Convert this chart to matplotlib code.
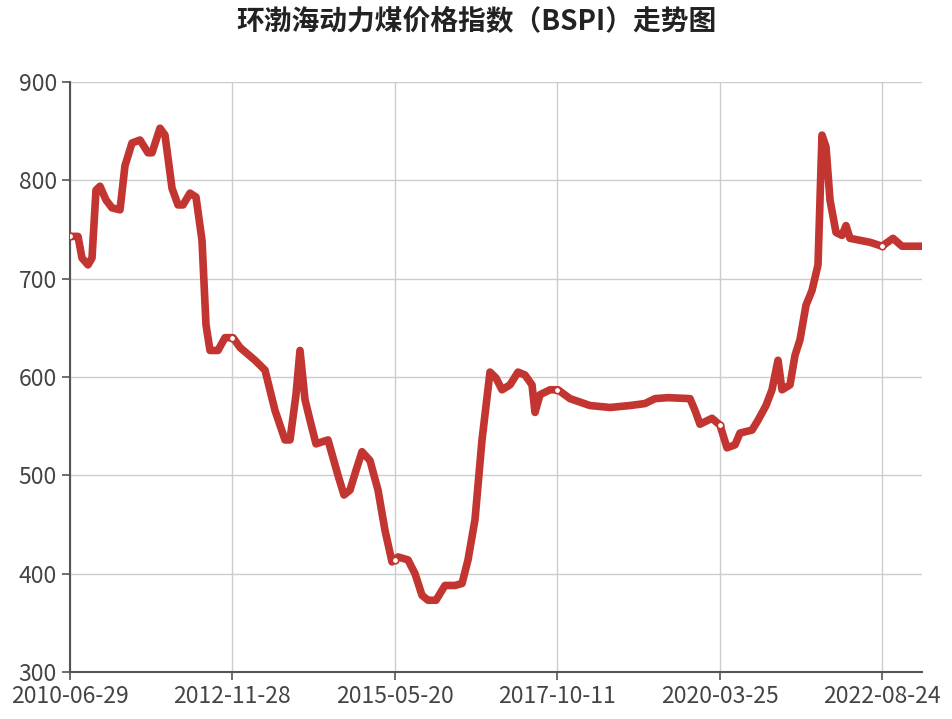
import matplotlib
matplotlib.use("Agg")
import matplotlib.pyplot as plt

plt.rcParams['font.family'] = ['Noto Sans CJK SC', 'DejaVu Sans']

tick_labels = ["2010-06-29", "2012-11-28", "2015-05-20", "2017-10-11", "2020-03-25", "2022-08-24"]
px = [70,78,82,88,92,96,100,106,112,120,125,132,140,148,152,160,165,172,178,183,190,196,202,206,210,218,225,233,
      240,255,265,275,285,290,296,300,305,310,316,328,338,344,350,356,362,370,378,385,392,398,408,415,422,428,436,
      445,455,462,468,475,482,490,496,502,510,518,525,532,535,540,550,558,570,590,610,630,645,655,668,690,695,700,
      712,720,727,735,740,752,758,766,772,778,782,790,795,800,806,812,818,822,826,830,836,842,846,850,870,882,893,902,922]
values = [743,743,721,714,721,790,794,780,772,770,815,838,841,828,828,853,846,792,775,775,787,783,739,653,627,627,640,640,
          630,617,607,566,536,536,582,627,577,556,532,536,500,480,485,505,524,515,485,444,412,417,414,400,378,373,373,
          388,388,390,414,455,536,605,599,587,592,605,602,592,564,582,587,587,578,571,569,571,573,578,579,578,566,552,
          558,551,528,531,543,546,556,571,587,617,587,592,622,638,673,688,714,846,834,780,747,744,754,741,737,733,741,733,733]
t = [(p - 70) / 162.4 for p in px]
marker_t = [0, 1, 2, 3, 4, 5]
marker_v = [743, 640, 414, 587, 551, 733]

fig = plt.figure(figsize=(9.52, 7.19), dpi=100)
ax = fig.add_axes([70/952, 1-672/719, 852/952, 590/719])
red = '#c23531'
ax.plot(t, values, color=red, lw=5.5, solid_joinstyle='round', solid_capstyle='round', zorder=3)
ax.scatter(marker_t, marker_v, s=22, facecolor='white', edgecolor=red, linewidth=1.2, zorder=4)
ax.set_xlim(0, 852/162.4)
ax.set_ylim(300, 900)
ax.set_yticks(range(300, 1000, 100))
ax.set_xticks(range(6))
ax.set_xticklabels(tick_labels)
ax.grid(True, color='#cccccc', lw=1)
ax.set_axisbelow(True)
for s in ['top', 'right']:
    ax.spines[s].set_visible(False)
ax.spines['left'].set_color('#555555')
ax.spines['bottom'].set_color('#555555')
ax.spines['left'].set_linewidth(1.5)
ax.spines['bottom'].set_linewidth(1.5)
ax.tick_params(labelsize=16.5, colors='#555555', length=6, width=1.2)
for lbl in ax.get_xticklabels() + ax.get_yticklabels():
    lbl.set_color('#444444')
fig.text(0.5, 1-22/719, "环渤海动力煤价格指数（BSPI）走势图", ha='center', va='center',
         fontsize=20, fontweight='bold', color='#222222')
fig.savefig("out.png", dpi=100)
